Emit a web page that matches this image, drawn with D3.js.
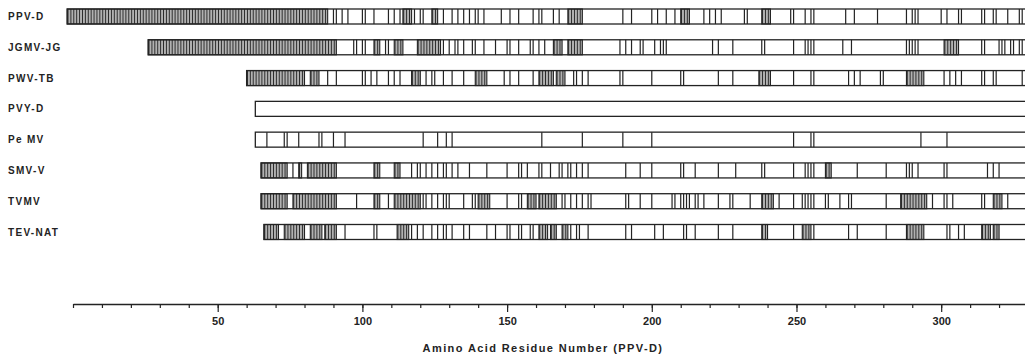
<!DOCTYPE html>
<html>
<head>
<meta charset="utf-8">
<script src="https://cdn.jsdelivr.net/npm/d3@7"></script>
<style>
  body { margin: 0; background: #fff; }
  svg { display: block; font-family: "Liberation Sans", Arial, sans-serif; }
</style>
</head>
<body>
<div id="chart"></div>
<script>
// sequence names, top to bottom
var names = ["PPV-D", "JGMV-JG", "PWV-TB", "PVY-D", "Pe MV", "SMV-V", "TVMV", "TEV-NAT"];

// first residue of each bar (PPV-D numbering)
var starts = [-2, 26, 60, 63, 63, 65, 65, 66];
var barEnd = 335;

// marked residues; [a, b] = run of consecutive marked residues
var ppvD = [[-2, 88], 90, 91, 93, 95, 100, 101, 104, 109, 111, 113, [114, 117], 118, 120, 121, [124, 126],
  128, 131, 133, 135, 137, 139, 140, 142, 148, 151, 154, 159, 161, 162, 166, 168, [171, 176], 190, 193,
  200, 202, 205, 208, [210, 213], 218, 220, 222, 224, 232, 233, [238, 241], 248, 249, 253, 255, 256, 267,
  270, 278, 288, 290, 291, 292, 300, 302, 306, 307, 314, 315, 318, 319, 323, 327, 328];

var jgmvJg = [[26, 91], 97, 98, 100, 101, [104, 106], 108, 109, [111, 114], [119, 127], 128, 130, 132, 133,
  135, 138, 139, 142, 146, 150, 151, 154, 158, 159, 161, 163, [166, 169], [171, 176], 189, 191, 193, 196,
  197, 201, 203, 204, 205, 221, 223, 228, 238, 239, 249, 253, 254, 255, 256, 266, 269, 288, 289, 290, 291,
  292, [301, 306], 314, 315, 320, 321, 322, 324, 325, 327, 328];

var pwvTb = [[60, 80], [82, 85], 88, 91, 100, 101, 103, 105, 109, 111, 113, [117, 120], 122, 124, 125, 128,
  131, 135, [139, 143], 149, 151, 154, 159, [161, 166], [167, 170], 173, 174, 176, 178, 189, 190, 200, 210,
  211, 223, 228, [237, 241], 249, 255, 256, 268, 270, 272, 279, 280, [288, 294], 301, 303, 305, 307, 314,
  315, 318, 319, 328];

var pvyD = [];

var peMv = [67, 73, 74, 78, 85, 86, 90, 94, 121, 126, 129, 131, 162, 176, 190, 200, 249, 255, 256, 293, 302];

var smvV = [[65, 74], 76, [78, 79], [81, 91], [104, 106], [111, 113], 117, 119, 120, 122, 124, 126, 128, 129,
  131, 133, 137, 143, 150, 154, 155, 157, 161, 162, 165, 168, 169, 171, 172, 174, 176, 178, 191, 196, 200,
  210, 211, 215, 223, 229, 238, 239, 249, 253, 254, 255, 256, [260, 262], 271, 281, 288, 289, 290, 292, 301,
  302, 316, 318, 320];

var tvmv = [[65, 74], [76, 91], 98, [104, 106], 109, [111, 120], 121, 122, 124, 126, 128, 129, 130, 135, 138,
  139, [140, 144], 150, 154, 155, [157, 160], [161, 167], 169, 170, 172, 174, 176, 178, 179, 191, 192, 196,
  200, 207, 208, 210, 211, 212, 213, 215, 216, 218, 223, 227, 228, 234, [238, 242], 244, 249, 252, 253, 254,
  255, 256, 260, 261, 265, 268, 269, 281, [286, 295], 297, 301, 302, 304, 314, 315, [318, 321], 323];

var tevNat = [[66, 71], [73, 80], [82, 86], [87, 91], 94, 104, 105, [112, 116], 117, 119, 121, 124, 126, 128,
  129, 131, 135, 137, 143, 146, 150, 151, 154, 155, 158, 159, [161, 164], [165, 167], [169, 171], 172, 174,
  175, 178, 191, 193, 201, 204, 211, 212, 215, 223, 228, [238, 240], 249, [252, 255], 256, 268, 271, 281,
  [288, 294], 302, 303, 306, 308, [314, 317], [318, 320]];

var sites = [ppvD, jgmvJg, pwvTb, pvyD, peMv, smvV, tvmv, tevNat];

// axis ticks
var majorTicks = [50, 100, 150, 200, 250, 300];
var minorTicks = [0, 10, 20, 30, 40, 50, 60, 70, 80, 90, 100, 110, 120, 130, 140, 150, 160, 170, 180, 190,
  200, 210, 220, 230, 240, 250, 260, 270, 280, 290, 300, 310, 320];
var axisTitle = "Amino Acid Residue Number (PPV-D)";

var width = 1025,
    height = 357;
var barH = 15;
var axisY = 304;
var ink = "#232323";

var svg = d3.select("#chart").append("svg")
    .attr("width", width)
    .attr("height", height);

var x = d3.scaleLinear()
    .domain([0, 330])
    .range([73, 1028]);

var y = d3.scalePoint()
    .domain(names)
    .range([16.5, 232]);

// hatch for runs of consecutive residues, one stroke per residue
var step = x(1) - x(0);
var pat = svg.append("defs").append("pattern")
    .attr("id", "hatch")
    .attr("patternUnits", "userSpaceOnUse")
    .attr("width", step)
    .attr("height", 40);
pat.append("rect").attr("width", step).attr("height", 40).attr("fill", "#d8d8d8");
pat.append("line")
    .attr("x1", step / 2).attr("x2", step / 2)
    .attr("y1", 0).attr("y2", 40)
    .attr("stroke", "#2a2a2a")
    .attr("stroke-width", 1.4);

var rows = svg.selectAll(".row")
    .data(names)
    .enter()
    .append("g")
    .attr("class", "row")
    .attr("transform", function(d) { return "translate(0," + (y(d) - barH / 2) + ")"; });

rows.append("text")
    .attr("x", 8)
    .attr("y", barH / 2)
    .attr("dy", "0.36em")
    .attr("font-size", 10)
    .attr("font-weight", "bold")
    .attr("letter-spacing", 1.3)
    .attr("fill", ink)
    .text(function(d) { return d; });

rows.append("rect")
    .attr("x", function(d, i) { return x(starts[i]); })
    .attr("y", 0)
    .attr("width", function(d, i) { return x(barEnd) - x(starts[i]); })
    .attr("height", barH)
    .attr("fill", "#fff");

rows.each(function(d, i) {
    var g = d3.select(this);
    var runs = sites[i].filter(function(s) { return Array.isArray(s); });
    var singles = sites[i].filter(function(s) { return !Array.isArray(s); });

    g.selectAll(".run")
	.data(runs)
	.enter()
	.append("rect")
	.attr("class", "run")
	.attr("x", function(s) { return x(s[0]); })
	.attr("y", 0)
	.attr("width", function(s) { return x(s[1]) - x(s[0]); })
	.attr("height", barH)
	.attr("fill", "url(#hatch)")
	.attr("stroke", ink)
	.attr("stroke-width", 1.1);

    g.selectAll(".site")
	.data(singles)
	.enter()
	.append("line")
	.attr("class", "site")
	.attr("x1", function(s) { return x(s); })
	.attr("x2", function(s) { return x(s); })
	.attr("y1", 0)
	.attr("y2", barH)
	.attr("stroke", ink)
	.attr("stroke-width", 1.2);
});

// outline on top
rows.append("rect")
    .attr("x", function(d, i) { return x(starts[i]); })
    .attr("y", 0)
    .attr("width", function(d, i) { return x(barEnd) - x(starts[i]); })
    .attr("height", barH)
    .attr("fill", "none")
    .attr("stroke", ink)
    .attr("stroke-width", 1.3);

// axis
var minorAxis = svg.append("g")
    .attr("transform", "translate(0," + axisY + ")")
    .call(d3.axisBottom(x).tickValues(minorTicks).tickSize(4).tickSizeOuter(0).tickFormat(""));

var majorAxis = svg.append("g")
    .attr("transform", "translate(0," + axisY + ")")
    .call(d3.axisBottom(x).tickValues(majorTicks).tickSize(8).tickSizeOuter(0).tickPadding(5));

majorAxis.select(".domain").remove();

svg.selectAll(".tick line").attr("stroke", ink).attr("stroke-width", 1.2);
minorAxis.select(".domain").attr("stroke", ink).attr("stroke-width", 1.3);

majorAxis.selectAll("text")
    .attr("font-size", 11)
    .attr("font-weight", "bold")
    .attr("font-family", "Liberation Sans, Arial, sans-serif")
    .attr("fill", ink);

svg.append("text")
    .attr("x", 543)
    .attr("y", 352)
    .attr("text-anchor", "middle")
    .attr("font-size", 11)
    .attr("font-weight", "bold")
    .attr("letter-spacing", 1.4)
    .attr("fill", ink)
    .text(axisTitle);
</script>
</body>
</html>
